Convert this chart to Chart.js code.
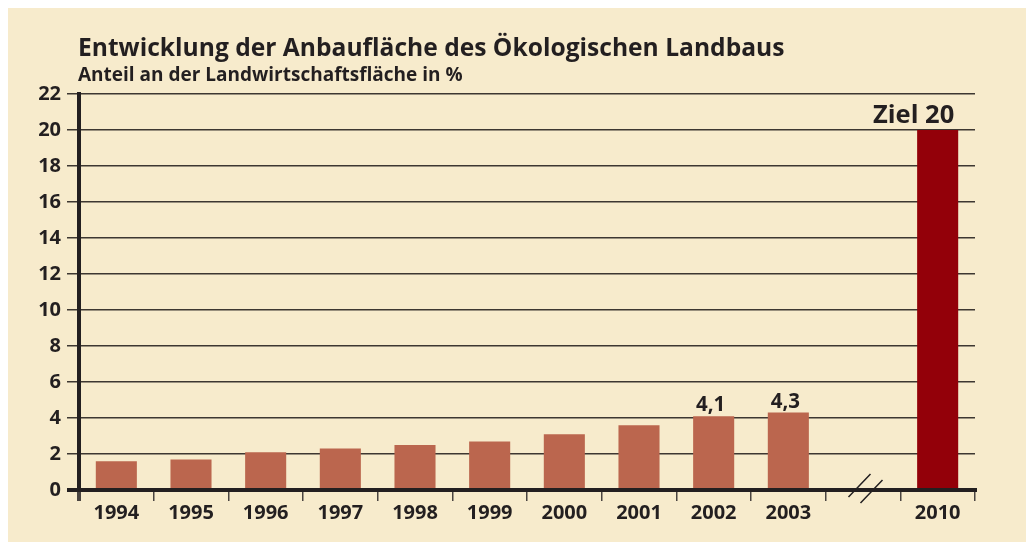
<!DOCTYPE html>
<html>
<head>
<meta charset="utf-8">
<script src="https://cdn.jsdelivr.net/npm/chart.js@4"></script>
<style>
  html, body { margin: 0; padding: 0; background: #ffffff; }
  #frame {
    position: absolute; left: 8px; top: 8px;
    width: 1018px; height: 534px;
    background: #f7ebcc;
  }
  #title {
    position: absolute; left: 70px; top: 22px; margin: 0;
    font: bold 24.6px "Open Sans", sans-serif; color: #231f20;
    white-space: nowrap;
  }
  #subtitle {
    position: absolute; left: 70px; top: 53px; margin: 0;
    font: bold 19px "Open Sans", sans-serif; color: #231f20;
    white-space: nowrap;
  }
  #chartBox { position: absolute; left: 0; top: 0; width: 1018px; height: 534px; }
</style>
</head>
<body>
<div id="frame">
  <div id="chartBox"><canvas id="landbauChart"></canvas></div>
  <div id="title">Entwicklung der Anbaufläche des Ökologischen Landbaus</div>
  <div id="subtitle">Anteil an der Landwirtschaftsfläche in %</div>
</div>
<script>
// data (the empty slot stands for the axis break)
const years = ['1994', '1995', '1996', '1997', '1998', '1999', '2000', '2001', '2002', '2003', '', '2010'];
const shares = [1.6, 1.7, 2.1, 2.3, 2.5, 2.7, 3.1, 3.6, 4.1, 4.3, null, 20];
const valueLabels = ['', '', '', '', '', '', '', '', '4,1', '4,3', '', 'Ziel 20'];
const yTicks = [0, 2, 4, 6, 8, 10, 12, 14, 16, 18, 20, 22];
const breakIndex = 10;

const ink = '#231f20';
const barColors = shares.map((v, i) => years[i] === '2010' ? '#930009' : '#bb664e');

// labels over the bars and the "//" break marks on the x axis
const extras = {
    id: 'extras',
    afterDatasetsDraw(chart) {
        const ctx = chart.ctx;
        const meta = chart.getDatasetMeta(0);
        ctx.save();
        ctx.fillStyle = ink;
        ctx.textAlign = 'center';
        ctx.textBaseline = 'alphabetic';
        valueLabels.forEach((txt, i) => {
            if (!txt) return;
            const bar = meta.data[i];
            const isGoal = years[i] === '2010';
            ctx.font = isGoal ? 'bold 25.5px "Open Sans"' : 'bold 20.5px "Open Sans"';
            ctx.fillText(txt, bar.x + (isGoal ? -24 : -3), bar.y - (isGoal ? 7 : 5));
        });

        const cx = chart.scales.x.getPixelForValue(breakIndex);
        const y0 = chart.scales.y.getPixelForValue(0);
        ctx.strokeStyle = ink;
        ctx.lineWidth = 1.5;
        ctx.beginPath();
        ctx.moveTo(cx - 14.5, y0 + 7); ctx.lineTo(cx + 7.5, y0 - 16);
        ctx.moveTo(cx - 2.5, y0 + 13); ctx.lineTo(cx + 19.5, y0 - 10);
        ctx.stroke();
        ctx.restore();
    }
};

const ctx = document.getElementById('landbauChart').getContext('2d');
new Chart(ctx, {
    type: 'bar',
    data: {
        labels: years,
        datasets: [{
            data: shares,
            backgroundColor: barColors,
            borderWidth: 0,
            categoryPercentage: 1,
            barPercentage: 0.55
        }]
    },
    options: {
        responsive: true,
        maintainAspectRatio: false,
        animation: false,
        layout: { padding: { top: 86, right: 51, left: 0, bottom: 0 } },
        plugins: {
            legend: { display: false },
            tooltip: { enabled: false }
        },
        scales: {
            x: {
                afterFit(scale) { scale.height = 52; },
                grid: {
                    offset: true,
                    drawOnChartArea: false,
                    drawTicks: true,
                    tickLength: 11,
                    color: '#4a4440',
                    lineWidth: c => c.index === 0 ? 4 : 1.5
                },
                border: { display: true, color: ink, width: 4 },
                ticks: {
                    color: ink,
                    font: { family: 'Open Sans', weight: 'bold', size: 20 },
                    padding: 0,
                    maxRotation: 0,
                    autoSkip: false
                }
            },
            y: {
                min: 0,
                max: 22,
                afterFit(scale) { scale.width = 71; },
                afterBuildTicks(scale) { scale.ticks = yTicks.map(v => ({ value: v })); },
                grid: {
                    drawTicks: true,
                    tickLength: 12,
                    color: c => c.tick && c.tick.value === 0 ? ink : '#3d3731',
                    lineWidth: c => c.tick && c.tick.value === 0 ? 4 : 1.5
                },
                border: { display: true, color: ink, width: 4 },
                ticks: {
                    color: ink,
                    font: { family: 'Open Sans', weight: 'bold', size: 20 },
                    padding: 6
                }
            }
        }
    },
    plugins: [extras]
});
</script>
</body>
</html>
